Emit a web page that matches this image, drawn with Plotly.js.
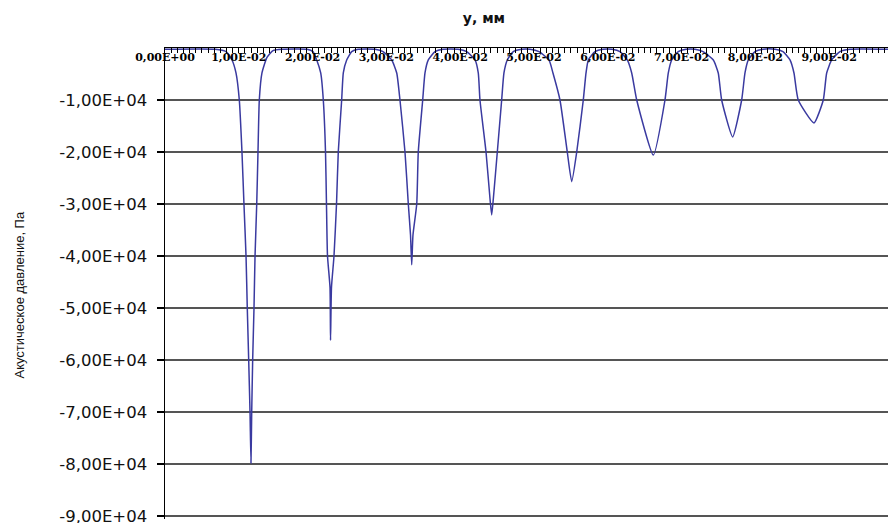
<!DOCTYPE html>
<html>
<head>
<meta charset="utf-8">
<script src="https://cdn.plot.ly/plotly-3.0.1.min.js"></script>
<style>html,body{margin:0;padding:0;background:#fff;}#chart{width:888px;height:523px;}</style>
</head>
<body>
<div id="chart"></div>
<script>
// y, мм (x position along the line)
var yPosition = [
  0, 0.00678, 0.00827, 0.00908, 0.00962, 0.01007, 0.01043, 0.01070, 0.01098, 0.01115, 0.01134, 0.01152, 0.01165,
  0.01175, 0.01188, 0.01206, 0.01220, 0.01243, 0.01260, 0.01278, 0.01314, 0.01382, 0.01463, 0.01585,
  0.01924, 0.02005, 0.02056, 0.02110, 0.02145, 0.02175, 0.02188, 0.02202, 0.02236, 0.02243,
  0.02256, 0.02290, 0.02324, 0.02348, 0.02394, 0.02416, 0.02462, 0.02530, 0.02615,
  0.02846, 0.02954, 0.03072, 0.03140, 0.03184, 0.03252, 0.03297, 0.03327, 0.03343,
  0.03360, 0.03411, 0.03432, 0.03492, 0.03523, 0.03568, 0.03659, 0.03767,
  0.03970, 0.04088, 0.04201, 0.04245, 0.04268, 0.04350, 0.04404, 0.04427,
  0.04449, 0.04503, 0.04562, 0.04593, 0.04638, 0.04720, 0.04837,
  0.04946, 0.05068, 0.05203, 0.05257, 0.05352, 0.05451, 0.05511,
  0.05579, 0.05668, 0.05705, 0.05736, 0.05827, 0.05935,
  0.06057, 0.06165, 0.06264, 0.06324, 0.06392, 0.06617,
  0.06775, 0.06820, 0.06866, 0.06955, 0.07060,
  0.07182, 0.07290, 0.07430, 0.07497, 0.07543, 0.07692,
  0.07814, 0.07859, 0.07904, 0.07995, 0.08103,
  0.08266, 0.08374, 0.08469, 0.08523, 0.08581, 0.08794,
  0.08920, 0.08966, 0.09034, 0.09146, 0.09282, 0.09797
];
// Акустическое давление, Па
var pressure = [
  -250, -250, -700, -2300, -4800, -10000, -20000, -30000, -40000, -50000, -60000, -70000, -79800,
  -70000, -60000, -50000, -40000, -30000, -20000, -10000, -4800, -1800, -500, -250,
  -250, -700, -2300, -4800, -10000, -20000, -30000, -40000, -46000, -56200,
  -46000, -40000, -30000, -20000, -10000, -4800, -2300, -700, -250,
  -250, -700, -2300, -4800, -10000, -20000, -30000, -36000, -41700,
  -36000, -30000, -20000, -10000, -4800, -2300, -700, -250,
  -250, -700, -2300, -4800, -10000, -20000, -29000, -32100,
  -29000, -20000, -10000, -4800, -2300, -700, -250,
  -250, -700, -2300, -4800, -10000, -20000, -25700,
  -20000, -10000, -4800, -2300, -700, -250,
  -250, -700, -2300, -4800, -10000, -20600,
  -10000, -4800, -2300, -700, -250,
  -250, -700, -2300, -4800, -10000, -17100,
  -10000, -4800, -2300, -700, -250,
  -250, -700, -2300, -4800, -10000, -14400,
  -10000, -4800, -2300, -700, -250, -250
];
var xTickVals = [0, 0.01, 0.02, 0.03, 0.04, 0.05, 0.06, 0.07, 0.08, 0.09];
var xTickText = ["0,00E+00", "1,00E-02", "2,00E-02", "3,00E-02", "4,00E-02", "5,00E-02", "6,00E-02", "7,00E-02", "8,00E-02", "9,00E-02"];
var yTickVals = [-10000, -20000, -30000, -40000, -50000, -60000, -70000, -80000, -90000];
var yTickText = ["-1,00E+04", "-2,00E+04", "-3,00E+04", "-4,00E+04", "-5,00E+04", "-6,00E+04", "-7,00E+04", "-8,00E+04", "-9,00E+04"];

var trace = {
  x: yPosition, y: pressure, type: 'scatter', mode: 'lines',
  line: {color: '#3a3aa0', width: 1.5, shape: 'spline', smoothing: 0.5}, hoverinfo: 'skip'
};
var layout = {
  width: 888, height: 523,
  margin: {l: 165, r: 0, t: 48, b: 4, pad: 0},
  paper_bgcolor: '#ffffff', plot_bgcolor: '#ffffff',
  showlegend: false,
  title: {text: 'у, мм', x: 0.545, xanchor: 'center', y: 0.9656, yref: 'container', yanchor: 'middle',
          font: {family: 'DejaVu Sans', size: 14, color: '#111', weight: 'bold'}},
  xaxis: {
    range: [0, 0.09797], side: 'top', anchor: 'y', automargin: false,
    showline: true, linecolor: '#000', linewidth: 1.5, mirror: false,
    showgrid: false, zeroline: false,
    tickmode: 'array', tickvals: xTickVals, ticktext: xTickText,
    ticks: 'inside', ticklen: 5, tickwidth: 1, tickcolor: '#000',
    ticklabelposition: 'outside', ticklabelstandoff: -19, ticklabeloverflow: 'allow',
    minor: {dtick: 0.01/12, ticks: 'inside', ticklen: 5, tickwidth: 1, tickcolor: '#000', showgrid: false},
    tickfont: {family: 'DejaVu Serif', size: 11, color: '#000', weight: 'bold'}
  },
  yaxis: {
    range: [-90577, 0], automargin: false,
    showline: true, linecolor: '#000', linewidth: 1.5,
    showgrid: true, gridcolor: '#555', gridwidth: 1.5, zeroline: false,
    tickmode: 'array', tickvals: yTickVals, ticktext: yTickText,
    ticks: 'outside', ticklen: 7, tickwidth: 1.5, tickcolor: '#000',
    ticklabelstandoff: 6, ticklabeloverflow: 'allow',
    tickfont: {family: 'DejaVu Sans', size: 16.5, color: '#111'}
  },
  annotations: [{
    text: 'Акустическое давление, Па', xref: 'paper', yref: 'paper',
    x: 0, y: 0.4745, xanchor: 'center', yanchor: 'middle', xshift: -145,
    textangle: -90, showarrow: false,
    font: {family: 'Liberation Sans', size: 13, color: '#111'}
  }]
};
Plotly.newPlot('chart', [trace], layout, {displayModeBar: false, staticPlot: true});
</script>
</body>
</html>
